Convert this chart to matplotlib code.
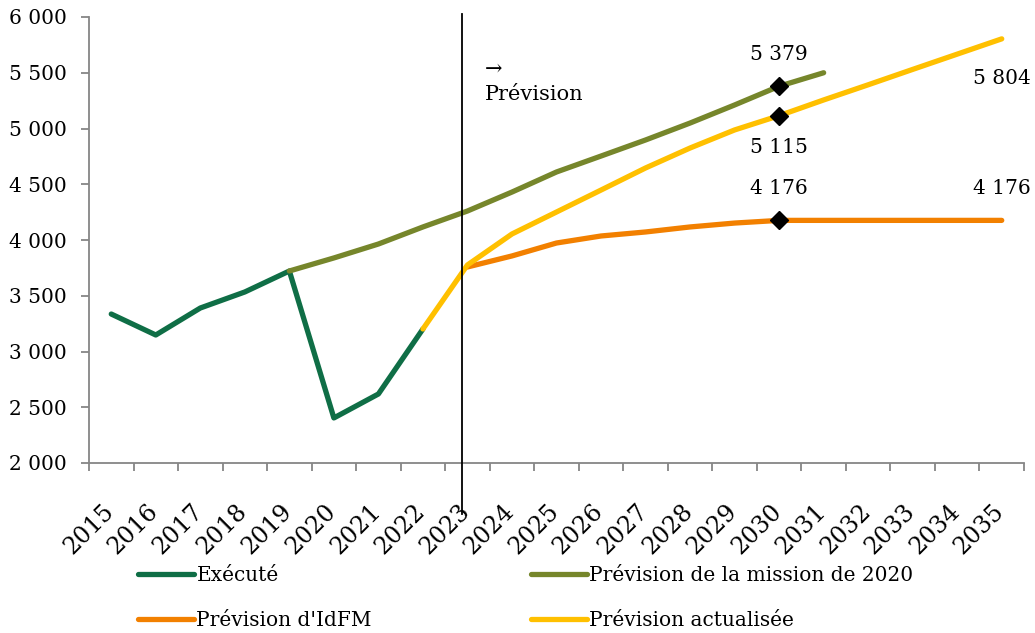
import matplotlib
matplotlib.use('Agg')
import matplotlib.pyplot as plt
from matplotlib.transforms import ScaledTranslation
import numpy as np

# data
years = list(range(2015, 2036))
execute = [3336, 3148, 3390, 3534, 3722, 2404, 2619, 3202]
mission_years = list(range(2019, 2032))
mission = [3722, 3839, 3964, 4117, 4260, 4430, 4610, 4753, 4897, 5049, 5211, 5379, 5500]
idfm_years = list(range(2023, 2036))
idfm = [3758, 3857, 3973, 4036, 4072, 4117, 4152, 4176, 4176, 4176, 4176, 4176, 4176]
actu_years = list(range(2022, 2036))
actu = [3202, 3776, 4054, 4251, 4448, 4646, 4825, 4987, 5115, 5256, 5392, 5530, 5667, 5804]

plt.rcParams['font.family'] = ['DejaVu Serif', 'DejaVu Sans']
plt.rcParams['font.size'] = 14.5

green = '#0F6E46'
olive = '#76862B'
orange = '#F28000'
yellow = '#FFC000'
grey = '#868686'

def idx(ys):
    return [y - 2015 for y in ys]

fig = plt.figure(figsize=(10.35, 6.33), dpi=100)
ax = fig.add_axes([89 / 1035, 1 - 463 / 633, (1024 - 89) / 1035, (463 - 17) / 633])

lw = 3.8
l1, = ax.plot(idx(years[:len(execute)]), execute, color=green, lw=lw, solid_capstyle='round', label='Exécuté')
l2, = ax.plot(idx(mission_years), mission, color=olive, lw=lw, solid_capstyle='round', label='Prévision de la mission de 2020')
l3, = ax.plot(idx(idfm_years), idfm, color=orange, lw=lw, solid_capstyle='round', label="Prévision d'IdFM")
l4, = ax.plot(idx(actu_years), actu, color=yellow, lw=lw, solid_capstyle='round', label='Prévision actualisée')

# markers at 2030 and value labels
def fmt(v):
    return f'{v:,}'.replace(',', ' ')

i30 = 2030 - 2015
for ys, vals in [(mission_years, mission), (actu_years, actu), (idfm_years, idfm)]:
    v = vals[ys.index(2030)]
    ax.plot(i30, v, marker='D', color='black', ms=9, zorder=5)

ax.annotate(fmt(mission[mission_years.index(2030)]), (i30, mission[mission_years.index(2030)]),
            xytext=(0, 16), textcoords='offset points', ha='center', va='bottom')
ax.annotate(fmt(actu[actu_years.index(2030)]), (i30, actu[actu_years.index(2030)]),
            xytext=(0, -16), textcoords='offset points', ha='center', va='top')
ax.annotate(fmt(idfm[idfm_years.index(2030)]), (i30, idfm[idfm_years.index(2030)]),
            xytext=(0, 16), textcoords='offset points', ha='center', va='bottom')
ax.annotate(fmt(idfm[-1]), (20, idfm[-1]),
            xytext=(0, 16), textcoords='offset points', ha='center', va='bottom')
ax.annotate(fmt(actu[-1]), (20, actu[-1]),
            xytext=(0, -22), textcoords='offset points', ha='center', va='top')

# forecast separator
ax.plot([7.87, 7.87], [6030, 1540], color='black', lw=1.3, clip_on=False, zorder=6)
ax.text(8.4, 5620, '→\nPrévision', ha='left', va='top', linespacing=1.45, fontsize=15)

ax.set_xlim(-0.5, 20.5)
ax.set_ylim(2000, 6000)
ax.set_yticks(np.arange(2000, 6001, 500))
ax.set_yticklabels([fmt(v) for v in range(2000, 6001, 500)])
ax.set_xticks(range(len(years)))
ax.set_xticklabels([str(y) for y in years], rotation=45, ha='right', va='center',
                   rotation_mode='anchor')
ax.set_xticks(np.arange(-0.5, 20.6, 1), minor=True)
ax.tick_params(axis='x', which='major', length=0, pad=32, labelsize=17)
ax.tick_params(axis='x', which='minor', length=6, color=grey, width=1.3, direction='out')
ax.tick_params(axis='y', length=6, color=grey, width=1.3, pad=10)
for lbl in ax.get_xticklabels():
    lbl.set_transform(lbl.get_transform() + ScaledTranslation(-1 / 100, 0, fig.dpi_scale_trans))
for s in ['top', 'right']:
    ax.spines[s].set_visible(False)
for s in ['left', 'bottom']:
    ax.spines[s].set_color(grey)
    ax.spines[s].set_linewidth(1.3)

fig.legend([l1, l3, l2, l4], [l1.get_label(), l3.get_label(), l2.get_label(), l4.get_label()],
           ncol=2, loc='center left', bbox_to_anchor=(138 / 1035, 1 - 598 / 633),
           frameon=False, handlelength=2.8, handletextpad=0.1, columnspacing=7.9,
           labelspacing=1.3, borderpad=0, borderaxespad=0)

fig.savefig('out.png', dpi=100)
